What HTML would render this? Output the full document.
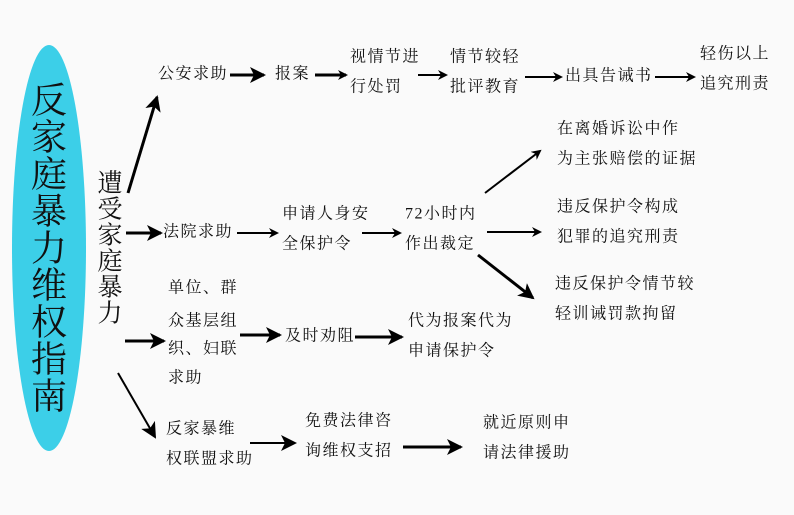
<!DOCTYPE html>
<html><head><meta charset="utf-8"><style>
html,body{margin:0;padding:0;background:#fafafa;}
svg text{font-family:"Liberation Serif","Noto Serif CJK SC",serif;font-size:16px;letter-spacing:1.5px;fill:#111;dominant-baseline:middle;}
svg text.t{font-size:36px;letter-spacing:0;}
svg text.s{font-size:25px;letter-spacing:0;}
</style></head><body>
<svg width="794" height="510" viewBox="0 0 794 510" xmlns="http://www.w3.org/2000/svg">
<defs>
<marker id="a" markerWidth="10" markerHeight="10" refX="8" refY="5" orient="auto" markerUnits="userSpaceOnUse" viewBox="0 0 10 10">
<path d="M0,0 L10,5 L0,10 L3,5 Z" fill="#000"/></marker>
<marker id="b" markerWidth="16" markerHeight="16" refX="14" refY="8" orient="auto" markerUnits="userSpaceOnUse" viewBox="0 0 16 16">
<path d="M0,0 L16,8 L0,16 L4,8 Z" fill="#000"/></marker>
</defs>
<rect width="794" height="510" fill="#fafafa"/>
<ellipse cx="49" cy="248" rx="37" ry="203" fill="#3ccfe8"/>
<text class="t" x="49" y="104" text-anchor="middle">反</text>
<text class="t" x="49" y="141" text-anchor="middle">家</text>
<text class="t" x="49" y="178" text-anchor="middle">庭</text>
<text class="t" x="49" y="215" text-anchor="middle">暴</text>
<text class="t" x="49" y="252" text-anchor="middle">力</text>
<text class="t" x="49" y="289" text-anchor="middle">维</text>
<text class="t" x="49" y="326" text-anchor="middle">权</text>
<text class="t" x="49" y="363" text-anchor="middle">指</text>
<text class="t" x="49" y="400" text-anchor="middle">南</text>
<text class="s" x="110" y="186" text-anchor="middle">遭</text>
<text class="s" x="110" y="212" text-anchor="middle">受</text>
<text class="s" x="110" y="238" text-anchor="middle">家</text>
<text class="s" x="110" y="264" text-anchor="middle">庭</text>
<text class="s" x="110" y="290" text-anchor="middle">暴</text>
<text class="s" x="110" y="316" text-anchor="middle">力</text>
<g stroke="#000" stroke-width="3" fill="none">
<line x1="128" y1="193" x2="157" y2="97" marker-end="url(#b)"/>
<line x1="230" y1="75" x2="264" y2="75" marker-end="url(#b)"/>
<line x1="315" y1="75" x2="346" y2="75" marker-end="url(#a)"/>
<line x1="126" y1="233" x2="161" y2="233" marker-end="url(#b)"/>
<line x1="125" y1="341" x2="164" y2="341" marker-end="url(#b)"/>
<line x1="240" y1="335" x2="280" y2="335" marker-end="url(#b)"/>
<line x1="355" y1="337" x2="402" y2="337" marker-end="url(#b)"/>
<line x1="403" y1="447" x2="461" y2="447" marker-end="url(#b)"/>
<line x1="478" y1="255" x2="533" y2="298" marker-end="url(#b)"/>
</g>
<g stroke="#000" stroke-width="2" fill="none">
<line x1="418" y1="75" x2="446" y2="75" marker-end="url(#a)"/>
<line x1="525" y1="77" x2="561" y2="77" marker-end="url(#a)"/>
<line x1="655" y1="77" x2="694" y2="77" marker-end="url(#a)"/>
<line x1="237" y1="233" x2="277" y2="233" marker-end="url(#a)"/>
<line x1="362" y1="233" x2="400" y2="233" marker-end="url(#a)"/>
<line x1="485" y1="193" x2="540" y2="151" marker-end="url(#a)"/>
<line x1="487" y1="232" x2="540" y2="232" marker-end="url(#a)"/>
<line x1="118" y1="373" x2="155" y2="437" marker-end="url(#b)"/>
<line x1="250" y1="443" x2="295" y2="443" marker-end="url(#b)"/>
</g>
<text x="158" y="75">公安求助</text>
<text x="275" y="75">报案</text>
<text x="350" y="58">视情节进</text><text x="350" y="88">行处罚</text>
<text x="450" y="58">情节较轻</text><text x="450" y="88">批评教育</text>
<text x="565" y="77">出具告诫书</text>
<text x="700" y="55">轻伤以上</text><text x="700" y="85">追究刑责</text>
<text x="163" y="233">法院求助</text>
<text x="282" y="215">申请人身安</text><text x="282" y="245">全保护令</text>
<text x="405" y="215">72小时内</text><text x="405" y="245">作出裁定</text>
<text x="557" y="130">在离婚诉讼中作</text><text x="557" y="160">为主张赔偿的证据</text>
<text x="557" y="208">违反保护令构成</text><text x="557" y="238">犯罪的追究刑责</text>
<text x="555" y="285">违反保护令情节较</text><text x="555" y="315">轻训诫罚款拘留</text>
<text x="168" y="289">单位、群</text><text x="168" y="322">众基层组</text><text x="168" y="350">织、妇联</text><text x="168" y="379">求助</text>
<text x="285" y="337">及时劝阻</text>
<text x="408" y="322">代为报案代为</text><text x="408" y="352">申请保护令</text>
<text x="166" y="430">反家暴维</text><text x="166" y="460">权联盟求助</text>
<text x="305" y="422">免费法律咨</text><text x="305" y="452">询维权支招</text>
<text x="483" y="424">就近原则申</text><text x="483" y="454">请法律援助</text>
</svg>
</body></html>
